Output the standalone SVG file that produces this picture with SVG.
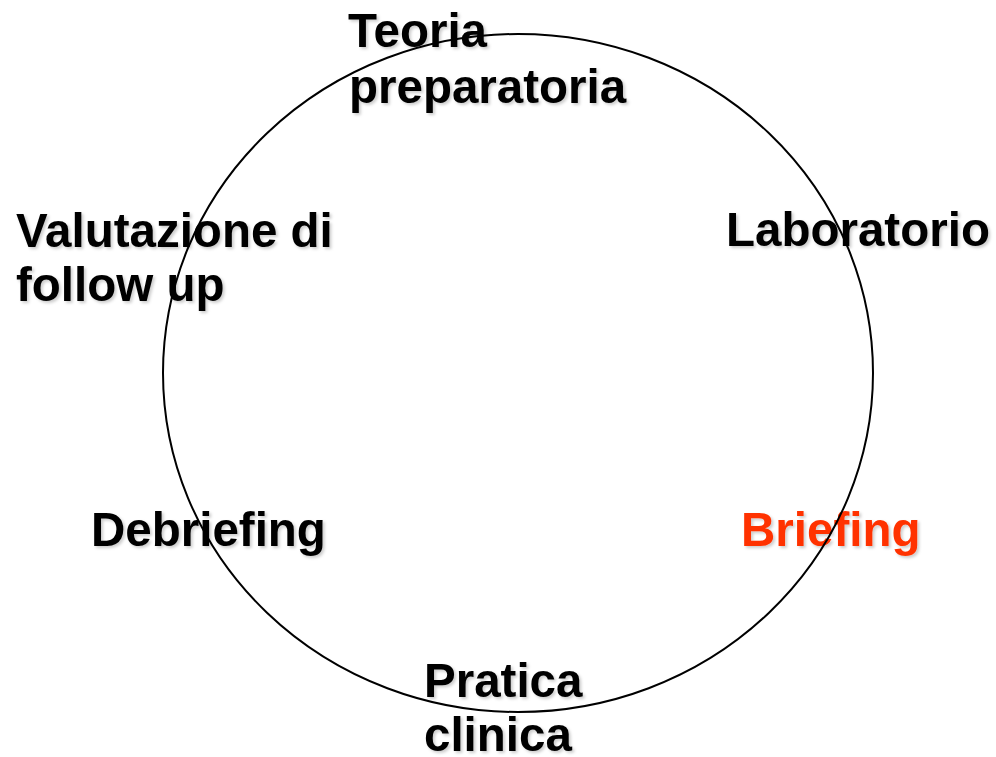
<svg xmlns="http://www.w3.org/2000/svg" width="996" height="757" viewBox="0 0 996 757">
<defs>
<filter id="sh" x="-10%" y="-20%" width="130%" height="150%">
<feGaussianBlur in="SourceAlpha" stdDeviation="1.5"/>
<feOffset dx="2" dy="2" result="b"/>
<feFlood flood-color="#000" flood-opacity="0.2"/>
<feComposite in2="b" operator="in"/>
<feMerge><feMergeNode/><feMergeNode in="SourceGraphic"/></feMerge>
</filter>
</defs>
<style>
text{font-family:"Liberation Sans",Arial,sans-serif;font-weight:bold;font-size:47.5px;fill:#000;filter:url(#sh)}
.hl{fill:#FF3300}
</style>
<rect width="996" height="757" fill="#fff"/>
<g id="teoria"><text x="348" y="47">Teoria</text><text x="349" y="103">preparatoria</text></g>
<g id="laboratorio"><text x="726" y="246">Laboratorio</text></g>
<g id="briefing"><text class="hl" x="741" y="546">Briefing</text></g>
<g id="pratica"><text x="424" y="697">Pratica</text><text x="424" y="751">clinica</text></g>
<g id="debriefing"><text x="91" y="546">Debriefing</text></g>
<g id="valutazione"><text x="16" y="247">Valutazione di</text><text x="16" y="301">follow up</text></g>
<g id="connectors"><ellipse cx="518" cy="373" rx="355" ry="339" fill="none" stroke="#000" stroke-width="2"/></g>
</svg>
